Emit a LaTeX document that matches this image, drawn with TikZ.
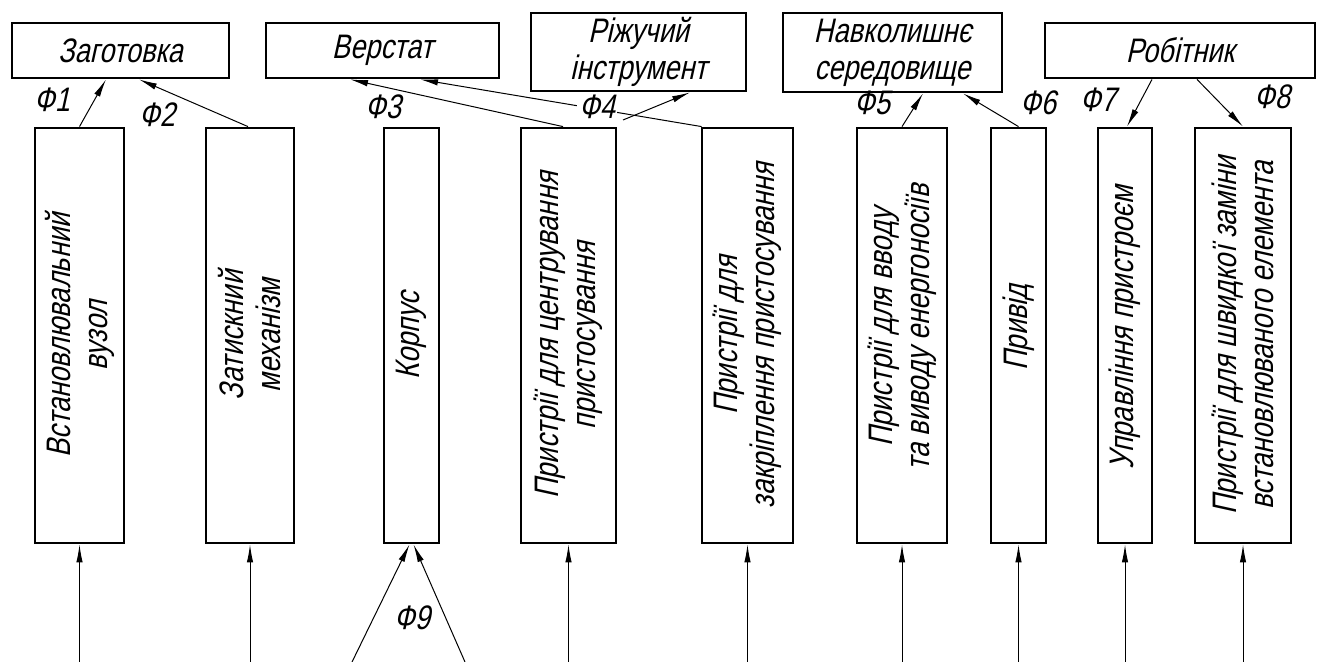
\documentclass[tikz,border=0pt]{standalone}
\usepackage{fontspec}
\newfontfamily\gost{Liberation Sans}[FakeSlant=0.22,FakeStretch=0.8]
\usetikzlibrary{arrows.meta}
\begin{document}
\begin{tikzpicture}[x=0.5pt,y=-0.5pt,
  box/.style={draw, line width=1.4pt, inner sep=0pt},
  txt/.style={font=\gost\fontsize{17}{18.5}\selectfont, align=center, inner sep=0pt},
  tbox/.style={box, txt},
  vbox/.style={box, minimum height=207.5pt},
  vtxt/.style={txt, rotate=90},
  arr/.style={line width=0.5pt, -{Latex[length=9pt,width=3.2pt]}},
  lbl/.style={font=\gost\fontsize{17}{18}\selectfont, inner sep=1pt}]
\fill[white] (0,0) rectangle (1320,662);
\useasboundingbox (0,0) rectangle (1320,662);

% top boxes
\node[tbox, minimum width=108.5pt, minimum height=27.5pt] (t1) at (120.5,50.5) {Заготовка};
\node[tbox, minimum width=116.5pt, minimum height=27.5pt] (t2) at (382.5,50.5) {Верстат};
\node[tbox, minimum width=107.5pt, minimum height=39pt] (t3) at (638.5,52) {Ріжучий\\інструмент};
\node[tbox, minimum width=109.5pt, minimum height=39.5pt] (t4) at (892.5,52.5) {Навколишнє\\середовище};
\node[tbox, minimum width=135pt, minimum height=27.5pt] (t5) at (1180,50.5) {Робітник};

% vertical boxes
\node[vbox, minimum width=44.5pt] (b1) at (79.5,335.5) {};
\node[vbox, minimum width=44pt] (b2) at (250,335.5) {};
\node[vbox, minimum width=27.5pt] (b3) at (411.5,335.5) {};
\node[vbox, minimum width=47.5pt] (b4) at (568.5,335.5) {};
\node[vbox, minimum width=45.5pt] (b5) at (747.5,335.5) {};
\node[vbox, minimum width=45pt] (b6) at (902,335.5) {};
\node[vbox, minimum width=27.5pt] (b7) at (1018.5,335.5) {};
\node[vbox, minimum width=27pt] (b8) at (1125,335.5) {};
\node[vbox, minimum width=48pt] (b9) at (1243,335.5) {};

\node[vtxt] (v1) at (b1) {Встановлювальний\\вузол};
\node[vtxt] (v2) at (b2) {Затискний\\механізм};
\node[vtxt] (v3) at (b3) {Корпус};
\node[vtxt] (v4) at (b4) {Пристрії для центрування\\пристосування};
\node[vtxt] (v5) at (b5) {Пристрії для\\закріплення пристосування};
\node[vtxt] (v6) at ([yshift=4pt]b6.center) {Пристрії для вводу\\та виводу енергоносіїв};
\node[vtxt] (v7) at ([yshift=4pt]b7.center) {Привід};
\node[vtxt] (v8) at ([yshift=4pt]b8.center) {Управління пристроєм};
\node[vtxt] (v9) at (b9) {Пристрії для швидкої заміни\\встановлюваного елемента};

% top connectors
\draw[arr] (b1.north) -- ([xshift=-7.25pt]t1.south);
\draw[arr] ([xshift=-1pt]b2.north) -- ([xshift=9.25pt]t1.south);
\draw[arr] ([xshift=-2.75pt]b4.north) -- ([xshift=-16.25pt]t2.south);
\draw[arr] ([xshift=0.5pt]b5.north west) -- ([xshift=18.75pt]t2.south);
\coordinate (f4s) at (623,120);
\draw[arr] (f4s) -- ([xshift=25.75pt]t3.south);
\draw[arr] (b6.north) -- ([xshift=15.25pt]t4.south);
\draw[arr] (b7.north) -- ([xshift=35.25pt]t4.south);
\draw[arr] ([xshift=-14pt]t5.south) -- ([xshift=1pt]b8.north);
\draw[arr] ([xshift=8.5pt]t5.south) -- (b9.north);

% bottom connectors
\coordinate (bot) at (0,662);
\foreach \b in {b1,b2,b4,b5,b6,b7,b8,b9}
  \draw[arr] (\b.south |- bot) -- (\b.south);
\coordinate (f9a) at (352,662);
\coordinate (f9b) at (465,662);
\draw[arr] (f9a) -- ([xshift=-1pt]b3.south);
\draw[arr] (f9b) -- ([xshift=1pt]b3.south);

% labels
\node[lbl] (L1) at (52,100) {Ф1};
\node[lbl] (L2) at (157,115) {Ф2};
\node[lbl] (L3) at (383,107) {Ф3};
\node[lbl, fill=white] (L4) at (597,107) {Ф4};
\node[lbl] (L5) at (872,103) {Ф5};
\node[lbl] (L6) at (1038,103) {Ф6};
\node[lbl] (L7) at (1098,100) {Ф7};
\node[lbl] (L8) at (1272,97) {Ф8};
\node[lbl] (L9) at (412,618) {Ф9};
\end{tikzpicture}
\end{document}
